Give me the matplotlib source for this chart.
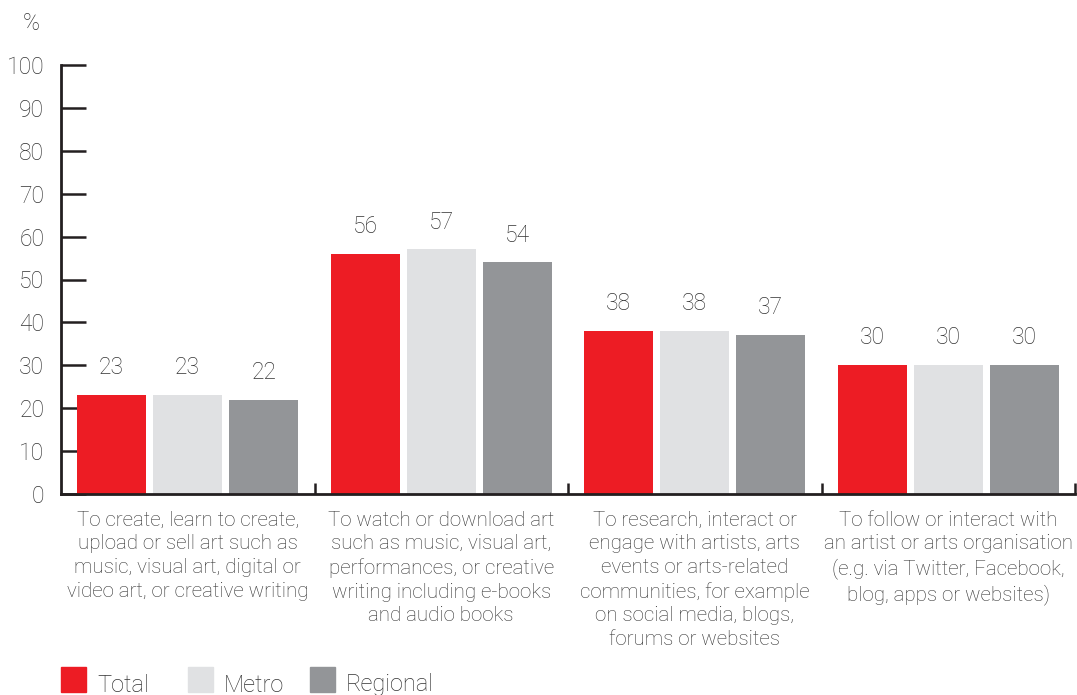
import matplotlib
matplotlib.use("Agg")
import matplotlib.pyplot as plt
from matplotlib.patches import Rectangle
from matplotlib.transforms import offset_copy

plt.rcParams['font.family'] = ['Roboto', 'DejaVu Sans']

categories = [
    "To create, learn to create,\nupload or sell art such as\nmusic, visual art, digital or\nvideo art, or creative writing",
    "To watch or download art\nsuch as music, visual art,\nperformances, or creative\nwriting including e-books\nand audio books",
    "To research, interact or\nengage with artists, arts\nevents or arts-related\ncommunities, for example\non social media, blogs,\nforums or websites",
    "To follow or interact with\nan artist or arts organisation\n(e.g. via Twitter, Facebook,\nblog, apps or websites)",
]
series_names = ["Total", "Metro", "Regional"]
total = [23, 56, 38, 30]
metro = [23, 57, 38, 30]
regional = [22, 54, 37, 30]
yticks = [0, 10, 20, 30, 40, 50, 60, 70, 80, 90, 100]

colors = ["#ED1C24", "#E0E1E3", "#939598"]
text_color = "#333333"
axis_color = "#231F20"

fig = plt.figure(figsize=(10.77, 6.95), dpi=100)
ax = fig.add_axes([61 / 1077, 1 - 494 / 695, (1075 - 61) / 1077, (494 - 65) / 695])

n = len(categories)
bar_w = 0.272
step = 0.30
for s, (vals, col) in enumerate(zip([total, metro, regional], colors)):
    xs = [i + 0.5 + (s - 1) * step for i in range(n)]
    ax.bar(xs, vals, width=bar_w, color=col, zorder=2)
    for x, v in zip(xs, vals):
        ax.annotate(f"{v}", (x, v), xytext=(0, 15), textcoords="offset points",
                    ha="center", va="baseline", fontsize=16.5, color=text_color,
                    fontweight="light")

ax.set_xlim(0, n)
ax.set_ylim(0, 100)
ax.set_yticks(yticks)
ax.set_yticklabels([str(t) for t in yticks])
ax.tick_params(axis="y", direction="in", length=18, width=1.8, color=axis_color,
               labelsize=16.5, labelcolor=text_color, pad=12)
for lbl in ax.get_yticklabels():
    lbl.set_fontweight("light")

# group separators on the category axis
ax.set_xticks(range(1, n + 1))
ax.set_xticklabels([])
ax.tick_params(axis="x", direction="in", length=8, width=1.8, color=axis_color)

for side in ["top", "right"]:
    ax.spines[side].set_visible(False)
for side in ["left", "bottom"]:
    ax.spines[side].set_linewidth(2)
    ax.spines[side].set_color(axis_color)

# category labels below the axis
trans = offset_copy(ax.get_xaxis_transform(), fig=fig, x=0, y=-12, units="points")
for i, cat in enumerate(categories):
    ax.text(i + 0.5, 0, cat, transform=trans, ha="center", va="top",
            fontsize=14.8, color=text_color, linespacing=1.31, fontweight="light")

# axis unit
fig.text(31 / 1077, 1 - 23 / 695, "%", ha="center", va="center", fontsize=16.5,
         color=text_color, fontweight="light")

# legend
leg_x = [61, 188, 310]
for name, col, lx in zip(series_names, colors, leg_x):
    fig.patches.append(Rectangle((lx / 1077, 1 - 692 / 695), 25 / 1077, 25 / 695,
                                 transform=fig.transFigure, color=col))
    fig.text((lx + 36) / 1077, 1 - 685 / 695, name, ha="left", va="center",
             fontsize=17, color=text_color, fontweight="light")

fig.savefig("out.png", dpi=100)
